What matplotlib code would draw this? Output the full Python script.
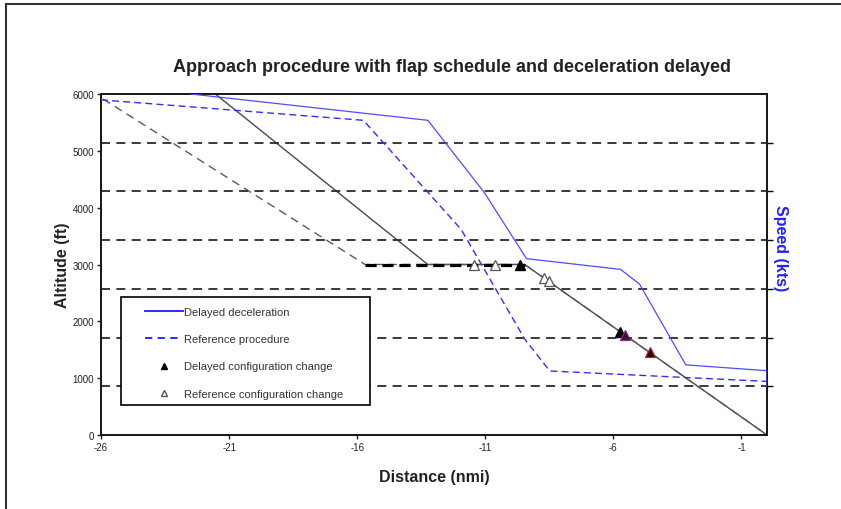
import numpy as np
import matplotlib.pyplot as plt
from matplotlib.lines import Line2D
from matplotlib.patches import Rectangle

plt.rcParams['font.family'] = ['Liberation Sans', 'DejaVu Sans']
plt.rcParams['axes.unicode_minus'] = False

# altitude profiles (ft) vs distance (nmi)
dist_delayed = [-21.83, -13.24, -9.46, 0.0]
alt_delayed = [6106, 3000, 3000, 0]
dist_ref = [-25.92, -15.69, -9.46, 0.0]
alt_ref = [5912, 3000, 3000, 0]

# speed profiles (kts)
spd_dist_delayed = [-22.5, -13.24, -11.04, -9.39, -5.72, -4.98, -3.17, 0.0, 0.0]
spd_delayed = [350, 323, 249, 181, 170, 155, 72, 66, 50]
spd_dist_ref = [-26.0, -15.76, -11.94, -9.46, -8.48, 0.0]
spd_ref = [344, 323, 211, 98.5, 65.7, 55]

# configuration changes
cfg_dist_delayed = [-9.66, -5.72]
cfg_alt_delayed = [3000, 1814]
cfg_dist_extra1 = [-5.53]
cfg_alt_extra1 = [1754]
cfg_dist_extra2 = [-4.58]
cfg_alt_extra2 = [1452]
cfg_dist_ref = [-11.43, -10.61, -8.72, -8.52]
cfg_alt_ref = [3000, 3000, 2765, 2702]

xticks = [-26, -21, -16, -11, -6, -1]
yticks = [0, 1000, 2000, 3000, 4000, 5000, 6000]
speed_grid = [50, 100, 150, 200, 250, 300]

fig = plt.figure(figsize=(8.41, 5.10), dpi=100)
ax = fig.add_axes([101/841, 1 - 436/510, 666/841, 341/510])
ax2 = ax.twinx()

# speed gridlines (dashed) on the right axis
for g in speed_grid:
    ax2.axhline(g, color='#2a2a2a', lw=1.3, dashes=(5, 3.5), zorder=1)

# altitude lines
ax.plot(dist_delayed, alt_delayed, color='#4a4a4a', lw=1.0, zorder=3)
ax.plot(dist_ref, alt_ref, color='#5a5a5a', lw=1.0, dashes=(6, 4), zorder=3)
ax.plot(dist_ref[1:3], alt_ref[1:3], color='black', lw=2.3, dashes=(3.5, 1.8), zorder=3)

ax.plot(cfg_dist_ref, cfg_alt_ref, ls='none', marker='^', ms=6.5,
        mfc='white', mec='#555555', mew=0.9, zorder=4)
ax.plot(cfg_dist_delayed, cfg_alt_delayed, ls='none', marker='^', ms=6.5,
        mfc='black', mec='black', zorder=4)
ax.plot(cfg_dist_extra1, cfg_alt_extra1, ls='none', marker='^', ms=6.5,
        mfc='#3a0a35', mec='#8a2a8a', mew=0.9, zorder=4)
ax.plot(cfg_dist_extra2, cfg_alt_extra2, ls='none', marker='^', ms=6.5,
        mfc='#2a0505', mec='#a03030', mew=0.9, zorder=4)

# speed lines
ax2.plot(spd_dist_delayed, spd_delayed, color='#4d4dff', lw=0.9, zorder=3)
ax2.plot(spd_dist_ref, spd_ref, color='#2f2fff', lw=1.0, dashes=(5, 3), zorder=3)

ax.set_xlim(-26, 0)
ax.set_ylim(0, 6000)
ax2.set_ylim(0, 350)
ax.set_xticks(xticks)
ax.set_yticks(yticks)
ax2.set_yticks(speed_grid)
ax2.set_yticklabels([])

ax.tick_params(axis='both', labelsize=7, length=3, width=1, colors='#222222', pad=2)
ax2.tick_params(axis='y', length=4, width=1)
for a in (ax, ax2):
    for s in a.spines.values():
        s.set_linewidth(1.4)
        s.set_color('#1a1a1a')

ax.set_xlabel('Distance (nmi)', fontsize=11.5, fontweight='bold', color='#222222', labelpad=12)
ax.set_ylabel('Altitude (ft)', fontsize=11.5, fontweight='bold', color='#222222', labelpad=2)
ax2.text(1.021, 0.551, 'Speed (kts)', transform=ax2.transAxes, rotation=270,
         ha='center', va='center', fontsize=11.5, fontweight='bold', color='#2020ff')

fig.text(452/841, 1 - 67/510, 'Approach procedure with flap schedule and deceleration delayed',
         ha='center', va='center', fontsize=13, fontweight='bold', color='#222222')

# legend with its own white box
ax2.add_patch(Rectangle((20/666, (436-406)/341), 249/666, 108/341, transform=ax2.transAxes,
                        facecolor='white', edgecolor='black', lw=1.2, zorder=6))
h1 = Line2D([], [], color='#1a1aff', lw=1.3)
h2 = Line2D([], [], color='#1a1aff', lw=1.3, dashes=(4, 3))
h3 = Line2D([], [], ls='none', marker='^', ms=5, mfc='black', mec='black')
h4 = Line2D([], [], ls='none', marker='^', ms=5, mfc='white', mec='#555555')
leg = ax2.legend([h1, h2, h3, h4],
                 ['Delayed deceleration', 'Reference procedure',
                  'Delayed configuration change', 'Reference configuration change'],
                 loc='upper left', bbox_to_anchor=(44/666, (436-308)/341),
                 frameon=False, fontsize=8, handlelength=3.4, handletextpad=0.1,
                 labelspacing=1.55, borderpad=0, borderaxespad=0)
leg.set_zorder(7)
for t in leg.get_texts():
    t.set_color('#333333')

# page border
fig.add_artist(Line2D([6/841, 1], [1 - 5/510, 1 - 5/510], transform=fig.transFigure,
                      color='#333333', lw=1.5))
fig.add_artist(Line2D([6/841, 6/841], [0, 1 - 5/510], transform=fig.transFigure,
                      color='#333333', lw=1.5))

fig.savefig('out.png', dpi=100)
